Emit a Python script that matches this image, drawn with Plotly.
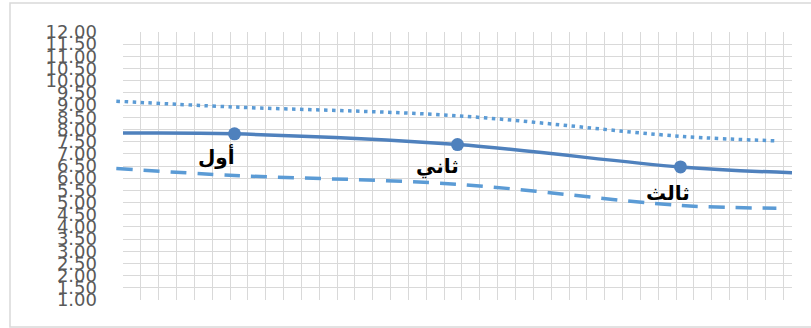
import plotly.graph_objects as go

# ---- data ----
categories = ['أول', 'ثاني', 'ثالث']
mean_values = [7.82, 7.38, 6.46]          # marked points (one per category)
mean_edge_left = 7.85                      # smoothed line value at left edge
mean_edge_right = 6.22                     # smoothed line value at right edge

upper_x = [-0.03, 0.5, 1.5, 2.5, 2.94]
upper_y = [9.16, 8.92, 8.56, 7.72, 7.53]

lower_x = [-0.03, 0.5, 1.5, 2.5, 2.93]
lower_y = [6.40, 6.11, 5.75, 4.88, 4.77]

y_ticks = [1 + 0.5 * i for i in range(23)]
y_tick_labels = [f'{v:.2f}' for v in y_ticks]

# label offsets (px) relative to each marker
label_dx = [-18, -20, -13]
label_dy = [-22, -22, -26]

# ---- layout geometry ----
W, H = 811, 328
L, R, T, B = 103, 19, 32, 28
plot_w = W - L - R
plot_h = H - T - B
inner_off = 20                       # px from plot-area left to main x-axis start
n_cat = len(categories)
x_per_px = n_cat / (plot_w - inner_off)

cat_x = [i + 0.5 for i in range(n_cat)]
curve_x = [0] + cat_x + [n_cat]
curve_y = [mean_edge_left] + mean_values + [mean_edge_right]

fig = go.Figure()

fig.add_trace(go.Scatter(
    x=upper_x, y=upper_y, mode='lines', xaxis='x2', yaxis='y2',
    line=dict(color='#5B9BD5', width=3.5, dash='3.5px,4.5px', shape='spline'),
    hoverinfo='skip', showlegend=False))

fig.add_trace(go.Scatter(
    x=lower_x, y=lower_y, mode='lines', xaxis='x2', yaxis='y2',
    line=dict(color='#5B9BD5', width=3.5, dash='16px,11px', shape='spline'),
    hoverinfo='skip', showlegend=False))

fig.add_trace(go.Scatter(
    x=curve_x, y=curve_y, mode='lines',
    line=dict(color='#4F81BD', width=3.5, shape='spline'),
    hoverinfo='skip', showlegend=False))

fig.add_trace(go.Scatter(
    x=cat_x, y=mean_values, mode='markers',
    marker=dict(color='#4F81BD', size=13),
    showlegend=False))

for i, name in enumerate(categories):
    fig.add_annotation(
        x=cat_x[i], y=mean_values[i], xref='x', yref='y',
        text=f'<b>{name}</b>', showarrow=False,
        xshift=label_dx[i], yshift=label_dy[i],
        font=dict(family='DejaVu Sans', size=20, color='black'))

# chart frame (left, top and bottom edges; right edge lies outside the view)
fx0 = (10 - L) / plot_w
fx1 = (W + 20 - L) / plot_w
fy0 = (H - B - 327) / plot_h
fy1 = (H - B - 3) / plot_h
fig.add_shape(type='path', xref='paper', yref='paper',
              path=f'M {fx1} {fy1} L {fx0} {fy1} L {fx0} {fy0} L {fx1} {fy0}',
              line=dict(color='#d9d9d9', width=1.5), layer='below')

fig.update_layout(
    width=W, height=H,
    margin=dict(l=L, r=R, t=T, b=B, pad=0),
    paper_bgcolor='white', plot_bgcolor='rgba(0,0,0,0)',
    xaxis=dict(domain=[inner_off / plot_w, 1], range=[0, n_cat],
               tick0=0, dtick=n_cat / 37.5, showgrid=True,
               gridcolor='#d9d9d9', gridwidth=1, showticklabels=False,
               zeroline=False, showline=False, ticks='', anchor='y'),
    yaxis=dict(range=[1, 12], tickvals=y_ticks, ticktext=y_tick_labels,
               showgrid=True, gridcolor='#d9d9d9', gridwidth=1,
               zeroline=False, showline=False, ticks='', anchor='x',
               tickfont=dict(family='DejaVu Sans', size=18, color='#595959'),
               ticklabelstandoff=25),
    xaxis2=dict(domain=[0, 1], range=[-inner_off * x_per_px, n_cat],
                visible=False, anchor='y2'),
    yaxis2=dict(domain=[0, 1], range=[1, 12], visible=False, anchor='x2'),
)

fig.write_html('out.html')
